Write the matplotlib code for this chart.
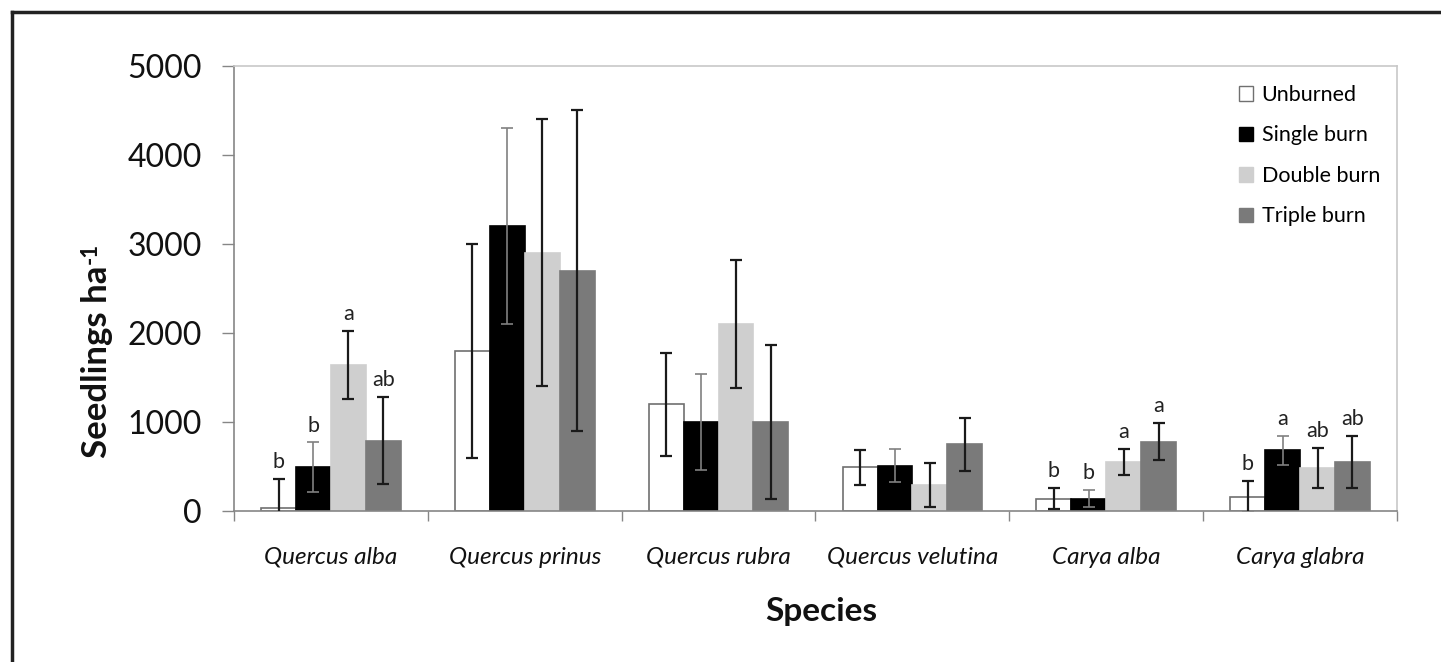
import matplotlib
matplotlib.use("Agg")
import matplotlib.pyplot as plt
import numpy as np
from matplotlib.patches import Patch
from matplotlib.lines import Line2D

species = ["Quercus alba", "Quercus prinus", "Quercus rubra", "Quercus velutina", "Carya alba", "Carya glabra"]
treatments = ["Unburned", "Single burn", "Double burn", "Triple burn"]

unburned = [30, 1800, 1200, 490, 140, 160]
single = [490, 3200, 1000, 510, 140, 680]
double = [1640, 2900, 2100, 290, 550, 480]
triple = [790, 2700, 1000, 750, 780, 550]

unburned_err = [330, 1200, 580, 200, 115, 180]
single_err = [280, 1100, 540, 185, 95, 165]
double_err = [380, 1500, 720, 245, 145, 225]
triple_err = [490, 1800, 865, 300, 205, 290]

letters = {
    0: ["b", "b", "a", "ab"],
    4: ["b", "b", "a", "a"],
    5: ["b", "a", "ab", "ab"],
}

yticks = [0, 1000, 2000, 3000, 4000, 5000]

values = [unburned, single, double, triple]
errors = [unburned_err, single_err, double_err, triple_err]
face = ["white", "black", "#cfcfcf", "#7a7a7a"]
edge = ["#707070", "black", "#cfcfcf", "#7a7a7a"]
ecol = ["#1a1a1a", "#808080", "#1a1a1a", "#1a1a1a"]
elw = [1.6, 1.2, 1.6, 1.6]

plt.rcParams['font.family'] = ['Lato', 'DejaVu Sans']

W, H = 1441, 662
fig = plt.figure(figsize=(W / 100, H / 100), dpi=100)
ax = fig.add_axes([234/W, 1-511/H, (1397-234)/W, (511-66)/H])

n = len(species)
x = np.arange(n)
w = 0.18
for i in range(4):
    pos = x + (i - 1.5) * w
    ax.bar(pos, values[i], w, color=face[i], edgecolor=edge[i], linewidth=1.2, zorder=2)
    ax.errorbar(pos, values[i], yerr=errors[i], fmt='none', ecolor=ecol[i], elinewidth=elw[i],
                capsize=4.5, capthick=elw[i], zorder=3)
for j, labs in letters.items():
    for i in range(4):
        top = values[i][j] + errors[i][j]
        ax.annotate(labs[i], (j + (i - 1.5) * w, top), xytext=(0, 5), textcoords='offset points',
                    ha='center', va='bottom', fontsize=15.5, color='#222222')

ax.set_xlim(-0.5, n - 0.5)
ax.set_ylim(0, 5000)
ax.set_yticks(yticks)
ax.set_yticklabels([str(t) for t in yticks], fontsize=23, color='#111111')
ax.set_xticks(np.arange(-0.5, n, 1.0))
ax.set_xticklabels([])
ax.tick_params(axis='x', length=7, color='#868686', width=1)
ax.tick_params(axis='y', length=9, color='#868686', width=1, pad=14)
for j, s in enumerate(species):
    ax.text(j, -520, s, ha='center', va='center', fontsize=17.5, style='italic', color='#111111')

for side in ['left', 'bottom']:
    ax.spines[side].set_color('#868686')
    ax.spines[side].set_linewidth(1.2)
for side in ['top', 'right']:
    ax.spines[side].set_color('#c8c8c8')
    ax.spines[side].set_linewidth(1.2)

ylab = fig.text(97/W, 1-458/H, "Seedlings ha", rotation=90, ha='center', va='bottom',
                fontsize=25, fontweight='bold', color='#111111')
renderer = fig.canvas.get_renderer()
bb = ylab.get_window_extent(renderer)
fig.text((bb.x0 - 1) / W, (bb.y1 + 2) / H, "-1", rotation=90, ha='left', va='bottom',
         fontsize=16, fontweight='bold', color='#111111')

fig.text(821/W, 1-612/H, "Species", ha='center', va='center', fontsize=24,
         fontweight='bold', color='#111111')

handles = [Patch(facecolor=face[i], edgecolor=edge[i], linewidth=1.0) for i in range(4)]
leg = fig.legend(handles, treatments, loc='upper left', bbox_to_anchor=(1239/W, 1-85/H),
                 frameon=False, fontsize=15.5, handlelength=0.65, handleheight=0.65,
                 handletextpad=0.4, labelspacing=0.95, borderpad=0, borderaxespad=0)

fig.add_artist(Line2D([12/W, 12/W], [0, 1-12/H], transform=fig.transFigure,
                      color='#222222', linewidth=2.5))
fig.add_artist(Line2D([12/W, 1], [1-12/H, 1-12/H], transform=fig.transFigure,
                      color='#222222', linewidth=2.5))

fig.savefig("out.png", dpi=100, facecolor='white')
